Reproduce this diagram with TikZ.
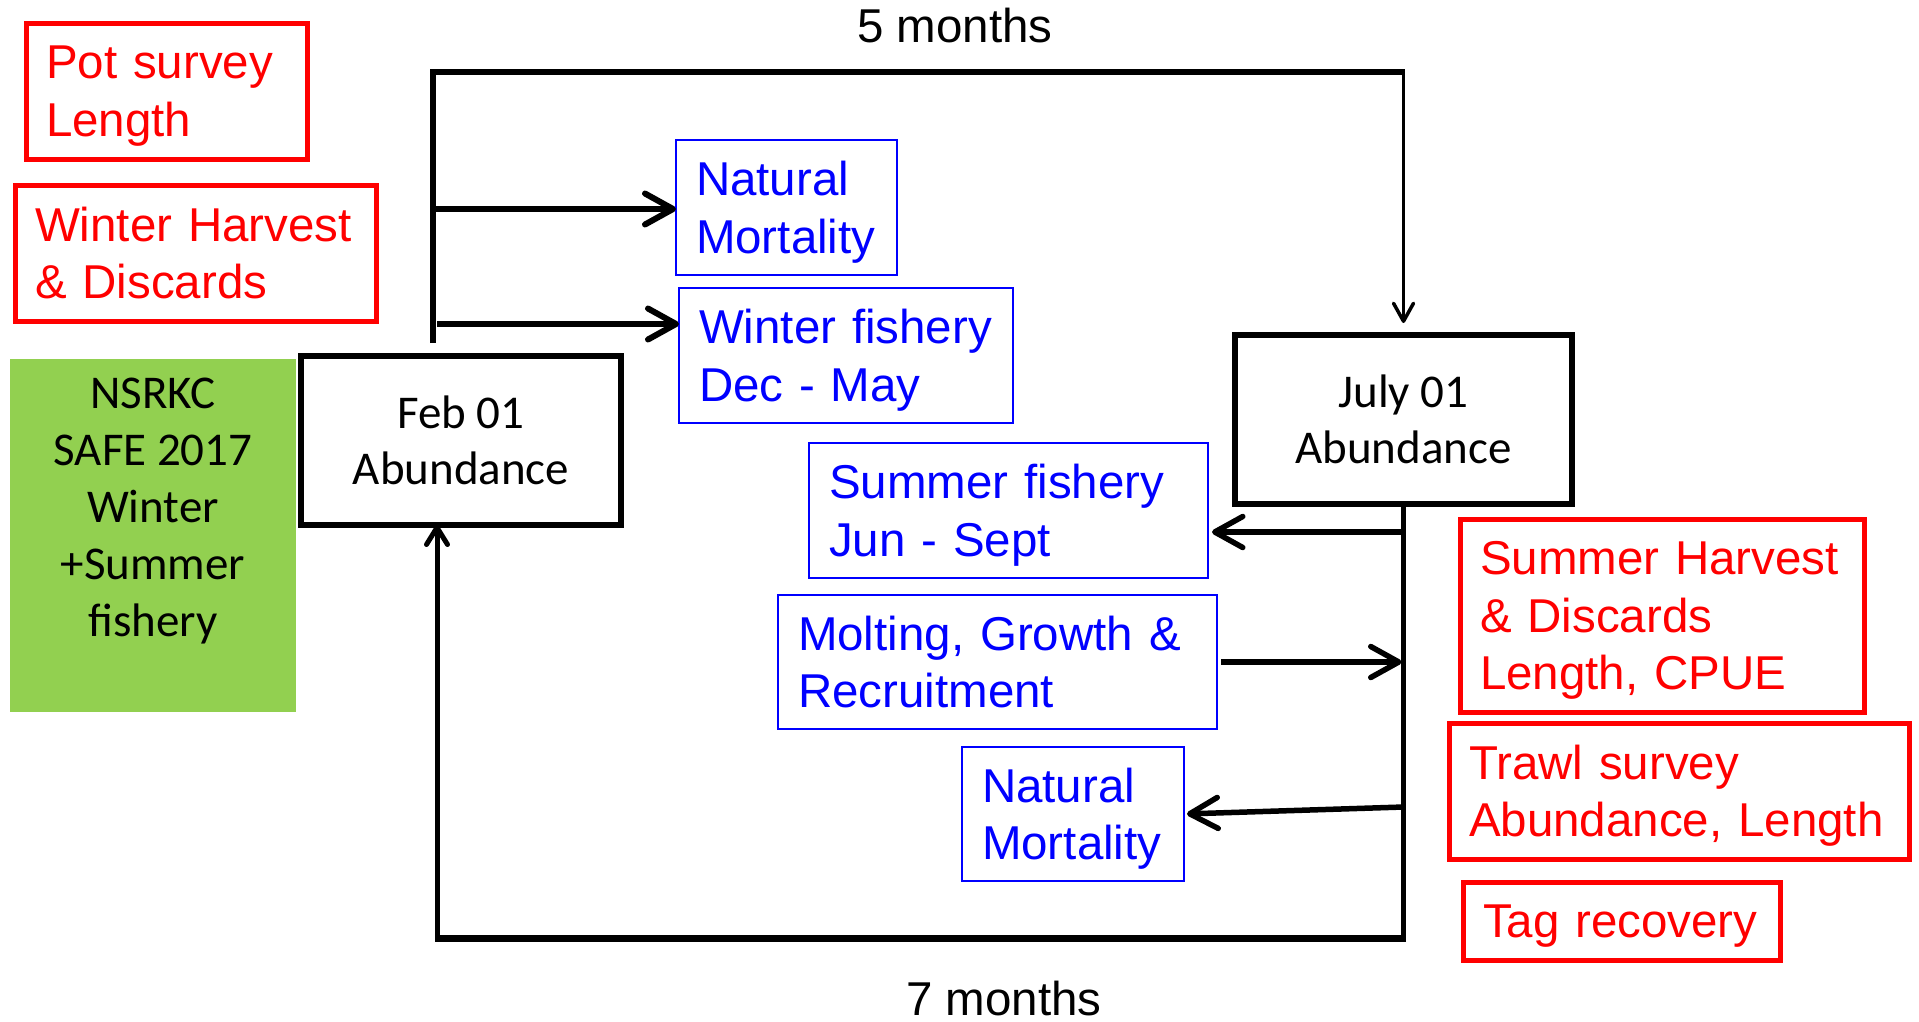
\documentclass[tikz,border=0pt]{standalone}
\usepackage{fontspec}
\newfontfamily\arialf{Liberation Sans}
\newfontfamily\calibrif{Carlito}
\usetikzlibrary{arrows.meta,calc}
\definecolor{pptgreen}{RGB}{146,208,80}
\tikzset{
  txtbox/.style={anchor=north west, outer sep=0pt, inner xsep=20pt, inner ysep=0pt,
    align=left, text depth=57.5pt, font=\arialf\fontsize{47.5}{57.5}\selectfont},
  redbox/.style={txtbox, draw=red, line width=5pt, text=red},
  bluebox/.style={txtbox, draw=blue, line width=2pt, text=blue},
  blackbox/.style={anchor=north west, outer sep=0pt, draw=black, line width=5.5pt,
    align=center, font=\calibrif\fontsize{47}{56.5}\selectfont},
  monthlabel/.style={inner sep=0pt, font=\arialf\fontsize{47.5}{57}\selectfont},
  bigarrow/.style={line width=6pt, -{Straight Barb[length=28pt,width=31pt,round]}},
  smallarrow/.style={line width=5pt, -{Straight Barb[length=17pt,width=21pt,round]}},
  thinarrow/.style={line width=3.5pt, -{Straight Barb[length=18pt,width=20pt,round]}},
}
\begin{document}
\begin{tikzpicture}[x=1pt,y=-1pt]
\useasboundingbox (0,0) rectangle (1919,1021);

% left red boxes
\node[redbox, minimum width=281pt, minimum height=136pt, text width=241pt] (pot) at (26,23) {Pot~survey\\Length};
\node[redbox, minimum width=361pt, minimum height=136pt, text width=321pt] (wh) at (15,185) {Winter~Harvest\\\&~Discards};

% green box
\node[anchor=north west, outer sep=0pt, inner sep=0pt, fill=pptgreen, minimum width=286pt, minimum height=353pt] (green) at (10,359) {};
\node[align=center, font=\calibrif\fontsize{47}{57.2}\selectfont] (greentxt) at (153,511) {NSRKC\\SAFE 2017\\Winter\\+Summer\\fishery};

% abundance boxes
\node[blackbox, minimum width=320pt, minimum height=169pt] (feb) at (301,356) {Feb 01\\Abundance};
\node[blackbox, minimum width=337pt, minimum height=169pt] (july) at (1235,335) {July 01\\Abundance};

% blue boxes
\node[bluebox, minimum width=221pt, minimum height=135pt, text width=181pt] (nm1) at (676,140) {Natural\\Mortality};
\node[bluebox, minimum width=334pt, minimum height=135pt, text width=294pt] (wf) at (679,288) {Winter~fishery\\Dec~-~May};
\node[bluebox, minimum width=399pt, minimum height=135pt, text width=359pt] (sf) at (809,443) {Summer~fishery\\Jun~-~Sept};
\node[bluebox, minimum width=439pt, minimum height=134pt, text width=399pt] (mg) at (778,595) {Molting,~Growth~\&\\Recruitment};
\node[bluebox, minimum width=222pt, minimum height=134pt, text width=182pt] (nm2) at (962,747) {Natural\\Mortality};

% right red boxes
\node[redbox, minimum width=404pt, minimum height=193pt, text width=364pt, text depth=115pt] (sh) at (1460,519) {Summer~Harvest\\\&~Discards\\Length,~CPUE};
\node[redbox, minimum width=460pt, minimum height=136pt, text width=420pt] (ts) at (1449,723) {Trawl~survey\\Abundance,~Length};
\node[redbox, minimum width=317pt, minimum height=78pt, text width=277pt, text depth=0pt] (tag) at (1463,882) {Tag~recovery};

% month labels
\node[monthlabel] (five) at (955,26) {5 months};
\node[monthlabel] (seven) at (1004,999) {7 months};

% top loop
\coordinate (ltop) at (433,343);
\coordinate (tl) at (433,72);
\coordinate (tr) at (july.north |- tl);
\draw[line width=6.5pt] (ltop) -- (tl) -- (tr);
\draw[thinarrow, shorten >=12pt] ([yshift=3pt]tr) -- (july.north);

% winter arrows
\coordinate (a1) at (433,209);
\draw[bigarrow] (a1) -- (a1 -| nm1.west);
\coordinate (a2) at (437,324);
\draw[bigarrow] (a2) -- (a2 -| wf.west);

% bottom loop
\coordinate (bl) at (437,938);
\coordinate (br) at (july.south |- bl);
\draw[line width=5pt] (july.south) -- (br);
\draw[line width=7pt] ([xshift=2.5pt]br) -- ([xshift=-2.5pt]bl);
\draw[smallarrow] ([yshift=3.5pt]bl) -- (bl |- feb.south);

% summer arrows
\coordinate (r1) at (july.south |- 0,532);
\draw[bigarrow, line width=5.5pt, shorten >=4pt] (r1) -- (r1 -| sf.east);
\draw[bigarrow, line width=5.5pt, shorten <=4pt, shorten >=2pt] (mg.east) -- (mg.east -| br);
\coordinate (r3) at (july.south |- 0,807);
\draw[bigarrow, line width=5.5pt, shorten >=3pt] (r3) -- (nm2.east);
\end{tikzpicture}
\end{document}
